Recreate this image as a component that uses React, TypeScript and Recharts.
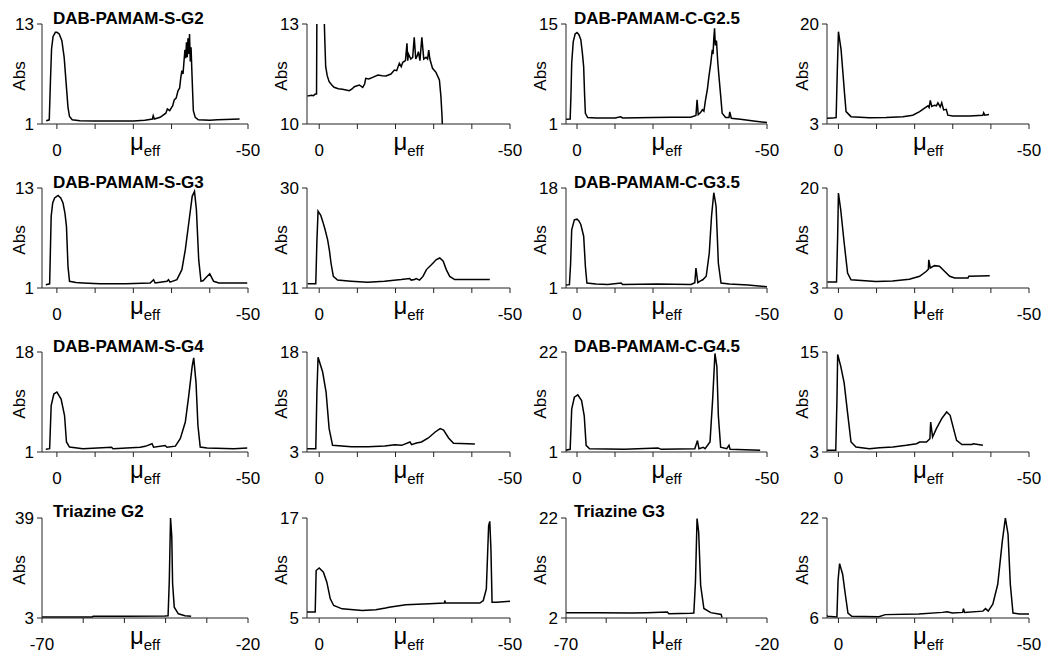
import { LineChart, Line, XAxis, YAxis } from "recharts";

type Pt = [number, number];

// [mu_eff, Abs] pairs
const sG2: Pt[] = [[2.8,1.4],[2.0,1.5],[1.7,6],[1.4,10],[1.0,11.5],[0.4,12],[0,12],[-0.6,11.8],[-1.3,11],[-1.9,9],[-2.4,6],[-2.9,3],[-3.3,1.9],[-4,1.5],[-6,1.4],[-10,1.35],[-15,1.35],[-20,1.35],[-23,1.45],[-25,1.6],[-25.2,2.0],[-25.5,1.6],[-27,1.8],[-28.5,2.3],[-28.9,2.8],[-29.5,2.6],[-30.3,3.2],[-30.7,3.9],[-31.2,4.1],[-31.7,5.0],[-32.1,5.3],[-32.4,6.5],[-32.7,7.4],[-33,7.0],[-33.3,8.8],[-33.5,9.9],[-33.7,8.9],[-33.9,10.8],[-34.1,9.0],[-34.3,11.3],[-34.5,9.4],[-34.7,11.8],[-34.9,8.5],[-35.1,10.2],[-35.3,7.5],[-35.5,5],[-35.7,2.6],[-36.2,1.8],[-37,1.5],[-40,1.45],[-42,1.5],[-44,1.55],[-47.8,1.6]];
const sG2b: Pt[] = [[3.1,10.84],[2.0,10.86],[1.5,10.85],[1.0,10.9],[0.7,10.9],[0.6,13.5],[0.4,18],[-0.5,20],[-1.0,16],[-1.3,13.2],[-1.5,12.4],[-1.7,11.72],[-2.1,11.45],[-2.6,11.27],[-3.3,11.17],[-3.9,11.1],[-5,11.06],[-6.1,11.04],[-7.9,11.0],[-8.6,11.05],[-9.2,11.12],[-10.5,11.17],[-11.4,11.1],[-11.9,11.2],[-12.2,11.37],[-13,11.35],[-14,11.4],[-15.4,11.47],[-16.5,11.45],[-17.5,11.44],[-18.8,11.5],[-19.7,11.62],[-20.3,11.6],[-21,11.82],[-21.5,11.72],[-21.9,11.85],[-22.6,11.9],[-23,12.42],[-23.2,11.9],[-23.4,12.1],[-24,11.95],[-24.5,12.0],[-24.9,12.6],[-25.3,11.95],[-25.7,12.05],[-26,12.17],[-26.4,11.9],[-26.9,12.6],[-27.4,11.95],[-28,12.0],[-28.4,11.95],[-28.7,12.22],[-29,11.95],[-29.7,11.67],[-30.6,11.55],[-31.5,11.32],[-31.9,10.82],[-32.2,10.2],[-32.4,9.5]];
const cG25: Pt[] = [[2.9,1.65],[1.8,1.7],[1.6,5],[1.4,9.5],[1.0,12.5],[0.5,13.6],[0,13.8],[-0.5,13.5],[-1,12.8],[-1.4,11],[-1.75,9],[-2.0,5],[-2.2,2.5],[-2.8,1.9],[-5,1.85],[-10,1.85],[-11.5,2.0],[-12,1.85],[-20,1.9],[-25,1.95],[-29.9,1.95],[-31.3,2.2],[-31.6,4.4],[-31.9,2.3],[-32.5,2.6],[-33,3.0],[-33.4,2.8],[-33.8,4.3],[-34.3,5.8],[-34.7,7.6],[-35.2,9.5],[-35.6,11.4],[-35.8,10.8],[-36.0,13.0],[-36.2,14.4],[-36.4,12.0],[-36.7,12.7],[-37,10],[-37.3,8],[-37.8,5],[-38.2,2.5],[-39.1,1.9],[-40.0,1.9],[-40.2,2.7],[-40.6,1.8],[-43,1.65],[-47,1.4],[-50,1.2]];
const cG25b: Pt[] = [[3.1,3.96],[1.5,4.0],[0.6,4.1],[0.3,12],[0,18.7],[-0.7,15.6],[-1.2,11.5],[-1.6,8.2],[-2,5.1],[-3.3,4.25],[-8.1,4.08],[-12.5,4.1],[-16.9,4.25],[-19.5,4.5],[-21.3,5.1],[-22.6,5.7],[-23.5,6.1],[-23.8,5.8],[-24.1,7.0],[-24.5,6.0],[-25.2,6.2],[-25.7,6.1],[-26.1,6.6],[-26.7,5.9],[-27.1,6.6],[-27.6,5.4],[-28.3,5.5],[-28.7,4.5],[-30,4.36],[-34.4,4.36],[-37.9,4.5],[-38.1,4.9],[-38.4,4.5],[-39.5,4.6]];
const sG3: Pt[] = [[2.9,1.4],[1.9,1.5],[1.5,9.6],[1.1,11.2],[0.6,11.8],[-0.3,12.1],[-1.0,11.8],[-1.6,11.2],[-2.1,10],[-2.5,8.4],[-2.9,3.6],[-3.3,1.8],[-5,1.65],[-6.8,1.6],[-11.2,1.5],[-18,1.5],[-24.4,1.6],[-25.3,2.0],[-25.7,1.6],[-28.8,1.8],[-29.2,2.0],[-29.6,1.7],[-31.4,2.0],[-32.7,3.2],[-33.6,5.6],[-34.5,8.8],[-35.4,12],[-36,12.6],[-36.5,10.4],[-37.1,4.4],[-37.7,1.8],[-38.3,1.9],[-38.9,2.2],[-40,2.7],[-41,1.8],[-42.4,1.6],[-49.8,1.6]];
const sG3b: Pt[] = [[3.07,11.82],[0.9,11.82],[0.6,20],[0.3,25.6],[-0.4,24.8],[-0.9,23.7],[-1.5,22.2],[-2.2,20.2],[-2.7,18],[-3.1,15.7],[-3.7,13.2],[-4.8,12.5],[-8.3,12.3],[-12.7,12.1],[-17.1,12.3],[-21.5,12.6],[-23.7,12.8],[-24.1,12.5],[-25.0,12.6],[-25.4,12.8],[-26.3,12.5],[-27.2,13.2],[-28.1,14.5],[-29.4,15.4],[-30.7,16.4],[-31.6,16.7],[-32.5,16.1],[-33.3,14.5],[-34.2,13.2],[-35.5,12.6],[-39,12.6],[-44.7,12.6]];
const cG35: Pt[] = [[3.2,1.5],[2,1.57],[1.7,5],[1.4,10.9],[0.7,12.6],[0,12.7],[-0.5,12.4],[-1,11.8],[-1.75,9.8],[-2.0,7],[-2.2,4.7],[-2.6,1.85],[-5,1.7],[-8.1,1.6],[-11.6,1.85],[-12,1.6],[-21.2,1.7],[-30,1.6],[-31.0,1.9],[-31.3,4.4],[-31.8,1.9],[-32.5,2.2],[-33.1,2.4],[-34,3.0],[-34.8,6.9],[-35.4,13.2],[-36,17.2],[-36.6,14.9],[-37.2,5.2],[-37.9,1.85],[-40.1,1.7],[-45,1.5],[-50,1.2]];
const cG35b: Pt[] = [[2.9,4.02],[0.5,4.02],[0.2,12],[0,19.15],[-0.6,16.3],[-1.5,10.7],[-2.4,5.55],[-3.3,4.4],[-9.8,4.1],[-14.2,4.2],[-18.6,4.5],[-21.3,5.0],[-23,5.8],[-23.6,6.2],[-23.7,7.8],[-24.1,6.4],[-25.2,6.8],[-26.5,6.7],[-27.9,5.8],[-29.2,5.0],[-30.5,4.7],[-34,4.7],[-34.2,5.0],[-39.7,5.1]];
const sG4: Pt[] = [[2.9,1.45],[1.9,1.56],[1.5,8.9],[0.8,10.85],[0,11.2],[-1.1,10],[-2,7.2],[-2.5,2.7],[-3.3,1.84],[-6.8,1.56],[-14.3,1.8],[-14.7,1.56],[-21.8,1.8],[-23.1,1.96],[-24.9,2.4],[-25.3,1.8],[-28.3,2.1],[-28.8,1.8],[-31,2.0],[-32.3,3.3],[-33.6,6.1],[-34.5,10.6],[-35.4,15.6],[-35.8,17],[-36.4,12.8],[-36.9,5.5],[-37.5,1.84],[-39.3,1.67],[-46.3,1.56],[-49.8,1.67]];
const sG4b: Pt[] = [[3.25,3.5],[0.9,3.5],[0.6,12],[0.3,17.2],[-0.9,15],[-1.8,12],[-2.6,6.5],[-3.5,4],[-8.4,3.8],[-12.8,3.8],[-17.2,3.9],[-19.8,4.1],[-21.6,4.0],[-23.8,4.5],[-24.2,4.1],[-25.5,4.35],[-26.8,4.5],[-28.6,5.1],[-30.4,6.0],[-31.7,6.5],[-32.6,6.3],[-33.9,5.1],[-35.2,4.3],[-40.8,4.2]];
const cG45: Pt[] = [[3.2,1.35],[1.8,1.56],[1.4,10],[0.7,12.5],[-0.2,13],[-1.2,11.8],[-1.9,8.6],[-2.4,2.4],[-3.3,1.7],[-12.5,1.56],[-21.3,1.84],[-22.2,1.56],[-31,1.7],[-31.7,3.4],[-32.1,1.7],[-33.2,2.0],[-33.7,1.7],[-35,3.1],[-35.7,12.1],[-36.3,21.7],[-36.8,19],[-37.2,8.6],[-37.8,2.0],[-39.4,1.7],[-40,2.4],[-40.3,1.56],[-48.2,1.35]];
const cG45b: Pt[] = [[3.1,3.2],[0.7,3.2],[0.4,9],[0.2,14.7],[-0.6,13.3],[-1.5,11.3],[-2.4,7.7],[-3.3,4.2],[-4.6,3.6],[-8.1,3.4],[-10.8,3.5],[-14.3,3.6],[-17.8,3.8],[-20.5,4.0],[-21.3,4.2],[-23.1,4.2],[-24,4.6],[-24.2,6.6],[-24.7,4.8],[-25.7,5.8],[-27.1,7.0],[-28.4,7.8],[-29.3,7.4],[-30.2,5.8],[-31,4.4],[-32.4,3.9],[-35,3.9],[-35.4,4.0],[-37.9,3.8]];
const triG2: Pt[] = [[-70,3.4],[-65,3.35],[-57.8,3.4],[-57.6,3.6],[-50,3.65],[-40.2,3.7],[-39.4,3.8],[-39.1,16.5],[-38.8,39],[-38.5,32.3],[-38.3,15.4],[-37.9,6.9],[-36.9,4.5],[-35.3,3.8],[-33.8,3.6]];
const triG2b: Pt[] = [[3.25,5.72],[1.05,5.72],[0.8,10.7],[0,11],[-1.1,10.5],[-2,9.3],[-2.9,7.3],[-3.8,6.5],[-6,6.1],[-11.3,5.9],[-14.8,6.0],[-17.4,6.2],[-18.3,6.3],[-22.7,6.6],[-28.9,6.7],[-32.8,6.8],[-32.9,7.1],[-33.1,6.8],[-42.1,6.8],[-43,7.1],[-43.8,8.5],[-44.4,16.1],[-44.7,16.6],[-45,13.3],[-45.3,6.9],[-46.5,6.9],[-50,7.0]];
const triG3: Pt[] = [[-70,3.07],[-62.1,3.07],[-53.9,3.0],[-49.8,3.07],[-44.8,3.2],[-44.4,2.87],[-39,2.93],[-38.2,3.0],[-37.8,9.2],[-37.4,21.9],[-37,19.2],[-36.5,8.5],[-35.7,3.9],[-34,3.07],[-31.4,2.7],[-31.2,2.07]];
const triG3b: Pt[] = [[3.3,6.54],[2.8,6.27],[0.4,6.16],[0.1,12],[-0.3,14.7],[-1.1,13],[-1.8,9.8],[-2.5,6.8],[-3.5,6.27],[-10.6,6.2],[-12.3,6.54],[-21.1,6.65],[-27.3,6.9],[-28.5,7.0],[-29.9,6.8],[-32.6,6.9],[-32.8,7.5],[-33.1,6.9],[-37.9,7.1],[-38.6,7.5],[-39.3,7.1],[-40.5,8.2],[-41.8,11.4],[-43,18.3],[-43.8,22],[-44.5,19.4],[-45.1,11.4],[-45.8,6.8],[-47.5,6.65],[-50,6.65]];

const muTicks = [0, -10, -20, -30, -40, -50];
const triTicks = [-70, -60, -50, -40, -30, -20];
const muStart = [3.9, 3.2, 2.9, 3.0]; // left end of the mu axis per column

type Panel = { title?: string; data: Pt[]; y: [number, number]; tri?: boolean };

const panels: Panel[][] = [
  [
    { title: "DAB-PAMAM-S-G2", data: sG2, y: [1, 13] },
    { data: sG2b, y: [10, 13] },
    { title: "DAB-PAMAM-C-G2.5", data: cG25, y: [1, 15] },
    { data: cG25b, y: [3, 20] },
  ],
  [
    { title: "DAB-PAMAM-S-G3", data: sG3, y: [1, 13] },
    { data: sG3b, y: [11, 30] },
    { title: "DAB-PAMAM-C-G3.5", data: cG35, y: [1, 18] },
    { data: cG35b, y: [3, 20] },
  ],
  [
    { title: "DAB-PAMAM-S-G4", data: sG4, y: [1, 18] },
    { data: sG4b, y: [3, 18] },
    { title: "DAB-PAMAM-C-G4.5", data: cG45, y: [1, 22] },
    { data: cG45b, y: [3, 15] },
  ],
  [
    { title: "Triazine G2", data: triG2, y: [3, 39], tri: true },
    { data: triG2b, y: [5, 17] },
    { title: "Triazine G3", data: triG3, y: [2, 22], tri: true },
    { data: triG3b, y: [6, 22] },
  ],
];

const FONT = '"Liberation Sans", Arial, Helvetica, sans-serif';
const colLeft = [0, 262, 524, 786];
const plotLeft = [42, 45, 42, 41];
const plotRight = [248, 248, 243, 243];
const rowTop = [24, 188, 352, 518];
const W = 262;
const H = 170;
const TOP = 24;

function Trace({ p, row, col }: { p: Panel; row: number; col: number }) {
  const data = p.data.map(([mu, abs]) => ({ mu, abs }));
  const ticks = p.tri ? triTicks : muTicks;
  const ends = [ticks[0], ticks[ticks.length - 1]];
  const xDomain: [number, number] = p.tri ? [-70, -20] : [-50, muStart[col]];
  const cx = (plotLeft[col] + plotRight[col]) / 2;
  const absX = col < 2 ? 25 : 22;
  return (
    <div style={{ position: "absolute", left: colLeft[col], top: rowTop[row] - TOP, width: W, height: H }}>
      <LineChart width={W} height={H} data={data} margin={{ top: TOP, right: W - plotRight[col], bottom: 0, left: 0 }}>
        <XAxis
          type="number"
          dataKey="mu"
          domain={xDomain}
          reversed={!p.tri}
          allowDataOverflow
          ticks={ticks}
          interval={0}
          tickFormatter={(v: number) => (ends.includes(v) ? String(v) : "")}
          height={H - TOP - 100}
          tickSize={5}
          tickMargin={15}
          stroke="#222"
          tick={{ fill: "#000", fontSize: 17, fontFamily: FONT }}
        />
        <YAxis
          type="number"
          domain={p.y}
          ticks={p.y}
          interval={0}
          allowDataOverflow
          width={plotLeft[col]}
          tickSize={5}
          tickMargin={3}
          stroke="#222"
          tick={{ fill: "#000", fontSize: 17, fontFamily: FONT }}
        />
        <Line type="linear" dataKey="abs" stroke="#000" strokeWidth={1.5} dot={false} isAnimationActive={false} />
      </LineChart>
      <svg width={W} height={H} style={{ position: "absolute", left: 0, top: 0, pointerEvents: "none" }} fontFamily={FONT}>
        {p.title && (
          <text x={col < 2 ? 53 : 50} y={row === 3 ? 23 : 24} fontSize={17} fontWeight="bold" fill="#000">
            {p.title}
          </text>
        )}
        <text x={absX} y={76} fontSize={17} textAnchor="middle" fill="#000" transform={`rotate(-90 ${absX} 76)`}>
          Abs
        </text>
        <text x={cx} y={150} textAnchor="middle" fill="#000">
          <tspan fontSize={24}>μ</tspan>
          <tspan fontSize={15} dy={6}>eff</tspan>
        </text>
      </svg>
    </div>
  );
}

export default function App() {
  return (
    <div style={{ position: "absolute", left: 0, top: 0, width: 1050, height: 671, background: "#fff" }}>
      {panels.map((r, ri) => r.map((p, ci) => <Trace key={`${ri}-${ci}`} p={p} row={ri} col={ci} />))}
    </div>
  );
}
